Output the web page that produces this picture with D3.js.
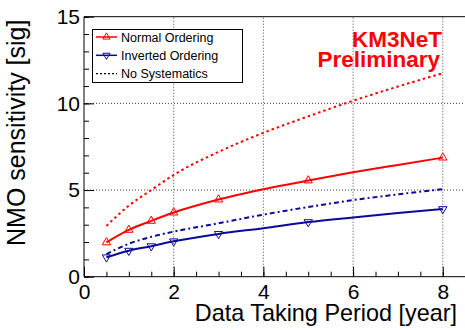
<!DOCTYPE html>
<html>
<head>
<meta charset="utf-8">
<script src="https://cdn.jsdelivr.net/npm/d3@7"></script>
<style>
  html, body { margin: 0; padding: 0; background: #fff; }
  svg { display: block; font-family: "Liberation Sans", Arial, Helvetica, sans-serif; }
  .axis path { display: none; }
  .axis line { stroke: #000; }
  .axis text { font-size: 21px; fill: #000; }
</style>
</head>
<body>
<div id="chart"></div>
<script>
// values
const years = [0.5, 1, 1.5, 2, 3, 4, 5, 6, 7, 8];
const markerYears = [0.5, 1, 1.5, 2, 3, 5, 8];
const normalOrdering = [1.98, 2.7, 3.22, 3.7, 4.45, 5.04, 5.55, 6.02, 6.45, 6.87];
const invertedOrdering = [1.12, 1.5, 1.76, 2.04, 2.47, 2.8, 3.15, 3.42, 3.67, 3.9];
const noSystNormal = [2.93, 4.1, 5.0, 5.87, 7.2, 8.3, 9.25, 10.15, 10.97, 11.74];
const noSystInverted = [1.3, 1.9, 2.3, 2.6, 3.08, 3.58, 4.02, 4.42, 4.75, 5.05];
const xMajor = [0, 2, 4, 6, 8];
const yMajor = [0, 5, 10, 15];

const RED = '#ff0000', BLUE = '#0a0a9a';
const W = 465, H = 330;
const svg = d3.select('#chart').append('svg').attr('width', W).attr('height', H);

const x = d3.scaleLinear().domain([0, 8.5]).range([84, 465.2]);
const y = d3.scaleLinear().domain([0, 15]).range([276.7, 16.7]);
const [yB, yT] = y.range();

// grid
const grid = svg.append('g').attr('stroke', '#444').attr('stroke-width', 1).attr('stroke-dasharray', '1,2');
grid.selectAll('line.gx').data(xMajor.filter(d => d > 0)).enter().append('line')
  .attr('x1', d => x(d)).attr('x2', d => x(d)).attr('y1', yB).attr('y2', yT);
grid.selectAll('line.gy').data([5, 10]).enter().append('line')
  .attr('x1', x(0)).attr('x2', W).attr('y1', d => y(d)).attr('y2', d => y(d));

// axes (ticks inside)
svg.append('g').attr('class', 'axis').attr('transform', `translate(0,${yB})`)
  .call(d3.axisBottom(x).tickValues(d3.range(0, 8.51, 0.5)).tickSize(-5).tickFormat(''));
svg.append('g').attr('class', 'axis').attr('transform', `translate(0,${yB})`)
  .call(d3.axisBottom(x).tickValues(xMajor).tickSize(-10).tickPadding(7).tickFormat(d3.format('d')));
svg.append('g').attr('class', 'axis').attr('transform', `translate(${x(0)},0)`)
  .call(d3.axisLeft(y).tickValues(d3.range(0, 15.1, 1)).tickSize(-5).tickFormat(''));
svg.append('g').attr('class', 'axis').attr('transform', `translate(${x(0)},0)`)
  .call(d3.axisLeft(y).tickValues(yMajor).tickSize(-10).tickPadding(4).tickFormat(d3.format('d')));

// frame
svg.append('path').attr('fill', 'none').attr('stroke', '#000').attr('stroke-width', 1)
  .attr('d', `M${W + 2},${yT}H${x(0)}V${yB}H${W + 2}`);

// curves
const line = d3.line().x(d => x(d[0])).y(d => y(d[1])).curve(d3.curveMonotoneX);
const series = [
  { vals: noSystNormal, color: RED, dash: '2.5,3', w: 2 },
  { vals: noSystInverted, color: BLUE, dash: '5,3,2,3', w: 2 },
  { vals: normalOrdering, color: RED, dash: null, w: 2 },
  { vals: invertedOrdering, color: BLUE, dash: null, w: 2 }
];
series.forEach(s => {
  svg.append('path').datum(years.map((yr, i) => [yr, s.vals[i]]))
    .attr('fill', 'none').attr('stroke', s.color).attr('stroke-width', s.w)
    .attr('stroke-dasharray', s.dash).attr('d', line);
});

// markers
const tri = d3.symbol().type(d3.symbolTriangle).size(30);
[[normalOrdering, RED, 0], [invertedOrdering, BLUE, 180]].forEach(([vals, color, rot]) => {
  svg.append('g').selectAll('path').data(markerYears).enter().append('path')
    .attr('d', tri)
    .attr('transform', d => `translate(${x(d)},${y(vals[years.indexOf(d)])}) rotate(${rot})`)
    .attr('fill', 'none').attr('stroke', color).attr('stroke-width', 1);
});

// legend
const lg = svg.append('g');
lg.append('rect').attr('x', 92.5).attr('y', 29.5).attr('width', 150).attr('height', 53)
  .attr('fill', '#fff').attr('stroke', '#000').attr('stroke-width', 1);
const legendItems = [
  { label: 'Normal Ordering', color: RED, dash: null, rot: 0 },
  { label: 'Inverted Ordering', color: BLUE, dash: null, rot: 180 },
  { label: 'No Systematics', color: '#000', dash: '2,2', rot: null }
];
legendItems.forEach((d, i) => {
  const cy = 37 + i * 18.3;
  lg.append('line').attr('x1', 96).attr('x2', 117).attr('y1', cy).attr('y2', cy)
    .attr('stroke', d.color).attr('stroke-width', d.dash ? 1.2 : 1.5).attr('stroke-dasharray', d.dash);
  if (d.rot !== null) {
    lg.append('path').attr('d', d3.symbol().type(d3.symbolTriangle).size(22))
      .attr('transform', `translate(106.5,${cy}) rotate(${d.rot})`)
      .attr('fill', 'none').attr('stroke', d.color).attr('stroke-width', 1);
  }
  lg.append('text').attr('x', 121).attr('y', cy).attr('dy', '0.36em')
    .style('font-size', '12.5px').text(d.label);
});

// KM3NeT label
const km = svg.append('g').attr('fill', RED).style('font-weight', 'bold').style('font-size', '22.5px')
  .attr('text-anchor', 'end');
km.append('text').attr('x', 442).attr('y', 46.5).text('KM3NeT');
km.append('text').attr('x', 440).attr('y', 67).text('Preliminary');

// axis titles
svg.append('text').attr('x', 457).attr('y', 321).attr('text-anchor', 'end')
  .style('font-size', '23.4px').text('Data Taking Period [year]');
svg.append('text').attr('transform', 'translate(25,246) rotate(-90)')
  .style('font-size', '25px').text('NMO sensitivity [sig]');
</script>
</body>
</html>
